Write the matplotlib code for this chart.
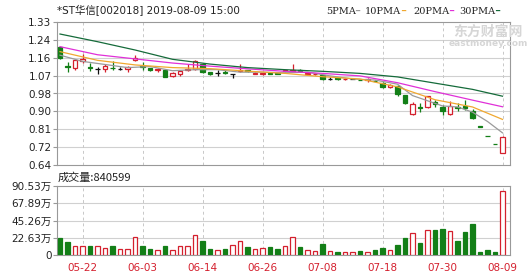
import numpy as np
import pandas as pd
import matplotlib
matplotlib.use("Agg")
import matplotlib.pyplot as plt

plt.rcParams['font.family'] = ['DejaVu Sans', 'Noto Sans CJK SC']

# ---------------------------------------------------------------------
# Data
# ---------------------------------------------------------------------
dates = pd.bdate_range("2019-05-17", "2019-08-09")
dates = dates[dates != pd.Timestamp("2019-06-07")]  # Dragon Boat holiday
day_labels = [d.strftime("%m-%d") for d in dates]
shown_dates = ["05-22", "06-03", "06-14", "06-26", "07-08", "07-18", "07-30", "08-09"]

opens = [1.21, 1.12, 1.11, 1.143, 1.115, 1.105, 1.105, 1.11, 1.105, 1.105,
         1.145, 1.12, 1.106, 1.096, 1.10, 1.068, 1.078, 1.098, 1.105, 1.125,
         1.087, 1.085, 1.09, 1.077, 1.093, 1.098, 1.08, 1.078, 1.085, 1.083,
         1.094, 1.095, 1.10, 1.08, 1.078, 1.075, 1.055, 1.058, 1.053, 1.055,
         1.052, 1.05, 1.046, 1.035, 1.015, 1.02, 0.98, 0.885, 0.92, 0.918,
         0.942, 0.918, 0.885, 0.92, 0.925, 0.90, 0.826, 0.782, 0.742, 0.70]
highs = [1.21, 1.135, 1.15, 1.178, 1.13, 1.115, 1.125, 1.14, 1.112, 1.12,
         1.17, 1.135, 1.11, 1.11, 1.10, 1.088, 1.10, 1.125, 1.148, 1.13,
         1.09, 1.10, 1.10, 1.078, 1.125, 1.10, 1.09, 1.085, 1.09, 1.088,
         1.10, 1.125, 1.102, 1.085, 1.083, 1.076, 1.065, 1.06, 1.06, 1.057,
         1.055, 1.058, 1.048, 1.04, 1.03, 1.025, 0.98, 0.942, 0.94, 0.975,
         0.955, 0.93, 0.95, 0.94, 0.955, 0.91, 0.826, 0.782, 0.742, 0.78]
lows = [1.15, 1.09, 1.10, 1.13, 1.095, 1.08, 1.09, 1.10, 1.10, 1.09,
        1.143, 1.10, 1.092, 1.09, 1.065, 1.066, 1.07, 1.094, 1.10, 1.085,
        1.075, 1.07, 1.078, 1.058, 1.09, 1.09, 1.078, 1.075, 1.078, 1.078,
        1.09, 1.092, 1.09, 1.078, 1.075, 1.048, 1.05, 1.05, 1.05, 1.053,
        1.048, 1.04, 1.043, 1.012, 1.012, 0.975, 0.935, 0.883, 0.895, 0.915,
        0.922, 0.88, 0.883, 0.90, 0.905, 0.862, 0.823, 0.78, 0.74, 0.70]
closes = [1.155, 1.112, 1.145, 1.152, 1.108, 1.105, 1.118, 1.106, 1.105, 1.115,
          1.155, 1.114, 1.097, 1.105, 1.066, 1.085, 1.092, 1.105, 1.14, 1.088,
          1.08, 1.085, 1.082, 1.077, 1.10, 1.092, 1.085, 1.082, 1.08, 1.08,
          1.098, 1.10, 1.095, 1.083, 1.08, 1.055, 1.055, 1.053, 1.057, 1.055,
          1.049, 1.054, 1.044, 1.015, 1.027, 0.985, 0.94, 0.933, 0.915, 0.972,
          0.936, 0.90, 0.925, 0.915, 0.915, 0.866, 0.823, 0.78, 0.74, 0.777]

# volume, in shares
volumes = [226000, 174000, 118000, 118000, 118000, 118000, 91000, 118000, 78000, 78000,
           230000, 118000, 78000, 65000, 118000, 60000, 118000, 118000, 260000, 187000,
           78000, 65000, 78000, 126000, 183000, 100000, 78000, 91000, 100000, 78000,
           118000, 230000, 104000, 60000, 48000, 144000, 48000, 39000, 35000, 35000,
           52000, 39000, 65000, 91000, 60000, 130000, 222000, 283000, 161000, 322000,
           326000, 340000, 309000, 183000, 300000, 405000, 39000, 61000, 39000, 840599]

# moving averages, read at a few days
ma_days = [0, 5, 10, 15, 20, 25, 30, 35, 40, 45, 50, 55, 59]
ma10 = [1.187, 1.145, 1.123, 1.11, 1.105, 1.093, 1.082, 1.066, 1.055, 1.017, 0.955, 0.92, 0.86]
ma20 = [1.211, 1.172, 1.152, 1.132, 1.117, 1.104, 1.092, 1.082, 1.07, 1.037, 0.994, 0.953, 0.921]
ma30 = [1.272, 1.235, 1.195, 1.15, 1.127, 1.11, 1.10, 1.092, 1.082, 1.065, 1.035, 1.005, 0.972]
ma5_days = [0, 3, 6, 9, 12, 15, 18, 21, 24, 27, 30, 33, 36, 39, 42, 45, 47, 49, 51, 53, 55, 57, 59]
ma5 = [1.17, 1.14, 1.125, 1.11, 1.115, 1.095, 1.10, 1.10, 1.088, 1.088, 1.085, 1.088,
       1.07, 1.055, 1.05, 1.03, 0.975, 0.95, 0.925, 0.92, 0.895, 0.85, 0.795]

price_tick_labels = ["0.64", "0.72", "0.81", "0.90", "0.98", "1.07", "1.16", "1.24", "1.33"]
vol_tick_labels = ["0", "22.63万", "45.26万", "67.89万", "90.53万"]

# ---------------------------------------------------------------------
# Style
# ---------------------------------------------------------------------
RED = "#d4202e"
GREEN = "#137f17"
FRAME = "#999999"
GRID = "#d0d0d0"
fs = 7.5

fig = plt.figure(figsize=(5.30, 2.76), dpi=100)
ax1 = fig.add_axes([57 / 530, 1 - 165 / 276, 453 / 530, 143 / 276])
ax2 = fig.add_axes([57 / 530, 1 - 255 / 276, 453 / 530, 69 / 276])

x = np.arange(len(closes))
o = np.array(opens)
c = np.array(closes)
up = c > o
down = c < o
flat = c == o
w = 0.62

# ---------------------------------------------------------------------
# Price panel
# ---------------------------------------------------------------------
ax1.set_ylim(0.64, 1.33)
ax1.set_xlim(-0.4, 60)
pticks = np.linspace(0.64, 1.33, 9)
ax1.set_yticks(pticks)
ax1.set_yticklabels(price_tick_labels, fontsize=fs)
ax1.set_xticks([])
for yv in pticks[1:-1]:
    ax1.axhline(yv, color=GRID, lw=0.8, zorder=0)

label_idx = [day_labels.index(d) for d in shown_dates]
for ax in (ax1, ax2):
    for i in label_idx:
        ax.axvline(i, color="#c8c8c8", lw=0.7, ls=(0, (3, 3)), zorder=0)
    for s in ax.spines.values():
        s.set_color(FRAME)
    ax.tick_params(axis="y", length=3, color=FRAME, pad=1, labelcolor="#222222")

wick_col = np.where(up, RED, np.where(down, GREEN, "#111111"))
ax1.vlines(x, lows, highs, colors=wick_col, lw=0.9, zorder=2)
ax1.bar(x[up], (c - o)[up], w, bottom=o[up], facecolor="white",
        edgecolor=RED, lw=0.9, zorder=3)
ax1.bar(x[down], (o - c)[down], w, bottom=c[down], facecolor=GREEN,
        edgecolor=GREEN, lw=0.9, zorder=3)
ax1.hlines(c[flat], x[flat] - w / 2, x[flat] + w / 2, colors="#111111", lw=0.9, zorder=3)

ax1.plot(ma5_days, ma5, color="#9a9a9a", lw=0.9, zorder=4)
ax1.plot(ma_days, ma10, color="#f0a830", lw=0.9, zorder=4)
ax1.plot(ma_days, ma20, color="#e030d8", lw=0.9, zorder=4)
ax1.plot(ma_days, ma30, color="#156b3a", lw=0.9, zorder=4)

# title and legend
fig.text(57 / 530, 1 - 11 / 276, "*ST华信[002018] 2019-08-09 15:00",
         fontsize=fs, va="center", ha="left", color="#222222")
legend_items = [("5PMA", "#9a9a9a", 326), ("10PMA", "#f0a830", 365),
                ("20PMA", "#e030d8", 413), ("30PMA", "#156b3a", 459)]
for name, col, px in legend_items:
    fig.text(px / 530, 1 - 11 / 276, name, fontsize=7, va="center",
             ha="left", color="#222222", family="DejaVu Serif")
    fig.text((px + len(name) * 6.6 + 3) / 530, 1 - 11 / 276, "\u2501", fontsize=5,
             va="center", ha="left", color=col)

# watermark
fig.text(488 / 530, 1 - 32 / 276, "东方财富网", fontsize=10, color="#d6d6d6",
         ha="center", va="center", weight="bold", family="Noto Sans CJK SC")
fig.text(488 / 530, 1 - 44 / 276, "eastmoney.com", fontsize=6.5, color="#d6d6d6",
         ha="center", va="center", weight="bold")

# ---------------------------------------------------------------------
# Volume panel
# ---------------------------------------------------------------------
v = np.array(volumes)
ax2.set_xlim(-0.4, 60)
ax2.set_ylim(0, 905300)
vticks = np.linspace(0, 905300, 5)
ax2.set_yticks(vticks)
ax2.set_yticklabels(vol_tick_labels, fontsize=fs)
for yv in vticks[1:-1]:
    ax2.axhline(yv, color=GRID, lw=0.8, zorder=0)

vol_up = c >= o
ax2.bar(x[vol_up], v[vol_up], w, facecolor="white", edgecolor=RED, lw=0.9, zorder=3)
ax2.bar(x[~vol_up], v[~vol_up], w, facecolor=GREEN, edgecolor=GREEN, lw=0.9, zorder=3)

ax2.set_xticks(label_idx)
ax2.set_xticklabels(shown_dates, fontsize=fs, color=RED)
ax2.tick_params(axis="x", length=0, pad=6)

fig.text(58 / 530, 1 - 178 / 276, "成交量:" + str(volumes[-1]), fontsize=8,
         va="center", ha="left", color="#222222",
         family=["Noto Sans CJK SC", "DejaVu Sans"])

fig.savefig("out.png", dpi=100)
